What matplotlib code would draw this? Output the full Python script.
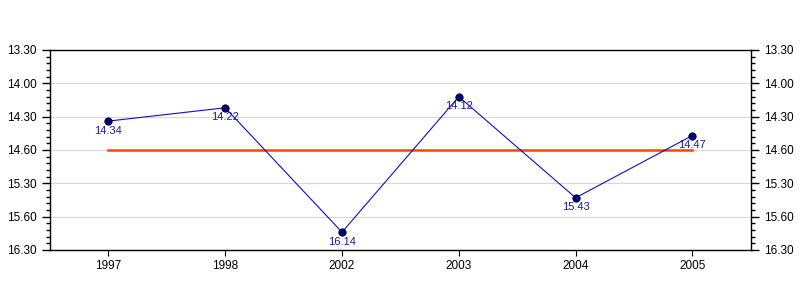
import matplotlib
matplotlib.use("Agg")
import matplotlib.pyplot as plt
from matplotlib.ticker import FixedLocator, MultipleLocator

plt.rcParams['font.family'] = ['Liberation Sans', 'DejaVu Sans']

years = ['1997', '1998', '2002', '2003', '2004', '2005']
# times as min.sec
labels = ['14.34', '14.22', '16.14', '14.12', '15.43', '14.47']
minutes = [14, 14, 16, 14, 15, 14]
seconds = [34, 22, 14, 12, 43, 47]
target = 15.0  # 15:00
ytick_vals = [13.5, 14.0, 14.5, 15.0, 15.5, 16.0, 16.5]
ytick_labels = ['13.30', '14.00', '14.30', '14.60', '15.30', '15.60', '16.30']

vals = [m + s / 60 for m, s in zip(minutes, seconds)]
x = list(range(len(years)))

fig = plt.figure(figsize=(8, 3), dpi=100)
ax = fig.add_axes([0.0625, 0.1667, 0.876, 0.6667])

ax.plot([x[0], x[-1]], [target, target], color='#ff4500', lw=1.8, zorder=2)
ax.plot(x, vals, color='#1010c0', lw=0.8, zorder=3)
ax.scatter(x, vals, s=28, color='#000080', edgecolors='black', linewidths=0.6, zorder=4)
for xi, v, lab in zip(x, vals, labels):
    ax.annotate(lab, (xi, v), xytext=(0, -7), textcoords='offset points',
                ha='center', va='center', fontsize=8, color='#1a1aa0')

ax.set_xlim(-0.5, len(years) - 0.5)
ax.set_ylim(16.5, 13.5)
ax.set_xticks(x)
ax.set_xticklabels(years, fontsize=8.5)
ax.yaxis.set_major_locator(FixedLocator(ytick_vals))
ax.set_yticklabels(ytick_labels, fontsize=8.5)
ax.yaxis.set_minor_locator(MultipleLocator(0.1))
ax.tick_params(axis='y', which='both', left=True, right=True, labelleft=True, labelright=True)
ax.tick_params(axis='y', which='major', length=6, width=1)
ax.tick_params(axis='y', which='minor', length=3, width=1)
ax.tick_params(axis='x', length=4)
ax.grid(axis='y', color='#d8d8d8', lw=0.8)
ax.set_axisbelow(True)
for sp in ax.spines.values():
    sp.set_linewidth(1)

fig.savefig('out.png', dpi=100)
